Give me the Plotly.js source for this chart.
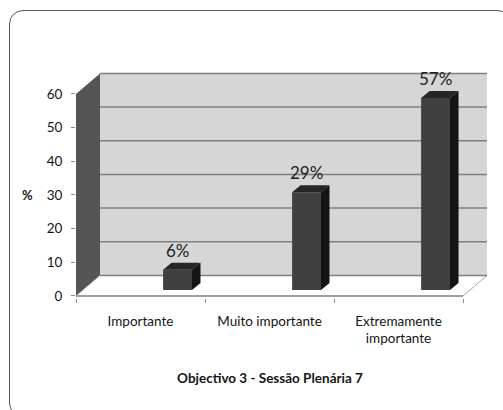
<!DOCTYPE html>
<html>
<head>
<meta charset="utf-8">
<script src="https://cdn.plot.ly/plotly-3.0.1.min.js"></script>
<style>
  html, body { margin: 0; padding: 0; background: #ffffff; }
  #wrap { position: relative; width: 503px; height: 410px; overflow: hidden; }
  #chart { position: absolute; left: 0; top: 0; width: 503px; height: 410px; }
  #frame {
    position: absolute; left: 9px; top: 10px; width: 500px; height: 405px;
    border: 1.5px solid #555; border-radius: 14px; pointer-events: none;
  }
</style>
</head>
<body>
<div id="wrap"><div id="chart"></div><div id="frame"></div></div>
<script>
// Chart data
const categories = ['Importante', 'Muito importante', 'Extremamente<br>importante'];
const values = [6, 29, 57];
const valueLabels = values.map(v => v + '%');
const yTicks = [0, 10, 20, 30, 40, 50, 60];
const chartTitle = 'Objectivo 3 - Sessão Plenária 7';
const yAxisLabel = '%';

// Pseudo-3D geometry (axis units)
const WALL_DX = 0.186;   // depth of the box along x
const WALL_DY = 6.09;    // depth of the box along y
const BAR_BASE = 1.78;   // bars stand half-way into the floor
const BAR_OFFSET = 0.175;
const BAR_WIDTH = 0.224;
const BAR_DX = 0.066;    // bar depth along x
const BAR_DY = 2.08;     // bar depth along y

const FONT = 'Lato, "Open Sans", sans-serif';
const TEXT = '#151515';
const nCat = categories.length;
const xLeft = -0.5, xRight = nCat - 0.5;
const yTop = yTicks[yTicks.length - 1];

const shapes = [];
// side wall
shapes.push({
  type: 'path', layer: 'below', xref: 'x', yref: 'y',
  path: `M ${xLeft},0 L ${xLeft},${yTop} L ${xLeft + WALL_DX},${yTop + WALL_DY} L ${xLeft + WALL_DX},${WALL_DY} Z`,
  fillcolor: '#555555', line: { width: 0 }
});
// back wall
shapes.push({
  type: 'rect', layer: 'below', xref: 'x', yref: 'y',
  x0: xLeft + WALL_DX, x1: xRight + WALL_DX, y0: WALL_DY, y1: yTop + WALL_DY,
  fillcolor: '#d6d6d6', line: { width: 0 }
});
// floor
shapes.push({
  type: 'path', layer: 'below', xref: 'x', yref: 'y',
  path: `M ${xLeft},0 L ${xRight},0 L ${xRight + WALL_DX},${WALL_DY} L ${xLeft + WALL_DX},${WALL_DY} Z`,
  fillcolor: '#ffffff', line: { color: '#a8a8a8', width: 1 }
});
// gridlines on the back wall
yTicks.forEach(v => {
  shapes.push({
    type: 'line', layer: 'below', xref: 'x', yref: 'y',
    x0: xLeft + WALL_DX, x1: xRight + WALL_DX, y0: v + WALL_DY, y1: v + WALL_DY,
    line: { color: '#808080', width: 1.5 }
  });
});
// front edge of the floor (category axis line)
shapes.push({
  type: 'line', layer: 'below', xref: 'x', yref: 'y',
  x0: xLeft, x1: xRight, y0: 0, y1: 0,
  line: { color: '#8c8c8c', width: 1.5 }
});
// top and side faces of each column
values.forEach((v, i) => {
  const xl = i + BAR_OFFSET, xr = xl + BAR_WIDTH;
  const b = BAR_BASE, t = BAR_BASE + v;
  shapes.push({
    type: 'path', layer: 'above', xref: 'x', yref: 'y',
    path: `M ${xl},${t} L ${xr},${t} L ${xr + BAR_DX},${t + BAR_DY} L ${xl + BAR_DX},${t + BAR_DY} Z`,
    fillcolor: '#262626', line: { width: 0 }
  });
  shapes.push({
    type: 'path', layer: 'above', xref: 'x', yref: 'y',
    path: `M ${xr},${b} L ${xr},${t} L ${xr + BAR_DX},${t + BAR_DY} L ${xr + BAR_DX},${b + BAR_DY} Z`,
    fillcolor: '#141414', line: { width: 0 }
  });
});

const annotations = values.map((v, i) => ({
  xref: 'x', yref: 'y',
  x: i + BAR_OFFSET + BAR_WIDTH / 2,
  y: BAR_BASE + v + BAR_DY,
  text: valueLabels[i], showarrow: false,
  xanchor: 'center', yanchor: 'bottom',
  font: { family: FONT, size: 17, color: '#222222' }
}));
annotations.push({
  xref: 'paper', yref: 'y', x: -0.116, y: 30,
  text: '<b>' + yAxisLabel + '</b>', showarrow: false,
  xanchor: 'center', yanchor: 'middle',
  font: { family: FONT, size: 13, color: TEXT }
});

const trace = {
  type: 'bar',
  x: categories,
  y: values,
  base: BAR_BASE,
  offset: BAR_OFFSET,
  width: BAR_WIDTH,
  marker: { color: '#404040', line: { width: 0 } },
  hoverinfo: 'skip'
};

const layout = {
  width: 503, height: 410,
  margin: { l: 76, r: 13, t: 72, b: 112, pad: 0 },
  paper_bgcolor: '#ffffff', plot_bgcolor: 'rgba(0,0,0,0)',
  showlegend: false,
  title: {
    text: '<b>' + chartTitle + '</b>',
    font: { family: FONT, size: 13.5, color: TEXT },
    xref: 'container', yref: 'container',
    x: 270 / 503, xanchor: 'center',
    y: 1 - 378 / 410, yanchor: 'middle'
  },
  xaxis: {
    type: 'category',
    range: [-0.5, 2.709],
    tickson: 'boundaries',
    ticks: 'outside', ticklen: 4, tickcolor: '#8c8c8c', tickwidth: 1,
    ticklabelstandoff: 13,
    showgrid: false, showline: false, zeroline: false,
    tickfont: { family: FONT, size: 13.5, color: TEXT },
    fixedrange: true
  },
  yaxis: {
    range: [-0.6, 66.5],
    tickmode: 'array', tickvals: yTicks,
    ticks: 'outside', ticklen: 4, tickcolor: '#8c8c8c', tickwidth: 1,
    ticklabelstandoff: 6,
    showgrid: false, showline: false, zeroline: false,
    tickfont: { family: FONT, size: 13.5, color: TEXT },
    fixedrange: true
  },
  shapes: shapes,
  annotations: annotations
};

Plotly.newPlot('chart', [trace], layout, { staticPlot: true, displayModeBar: false });
</script>
</body>
</html>
